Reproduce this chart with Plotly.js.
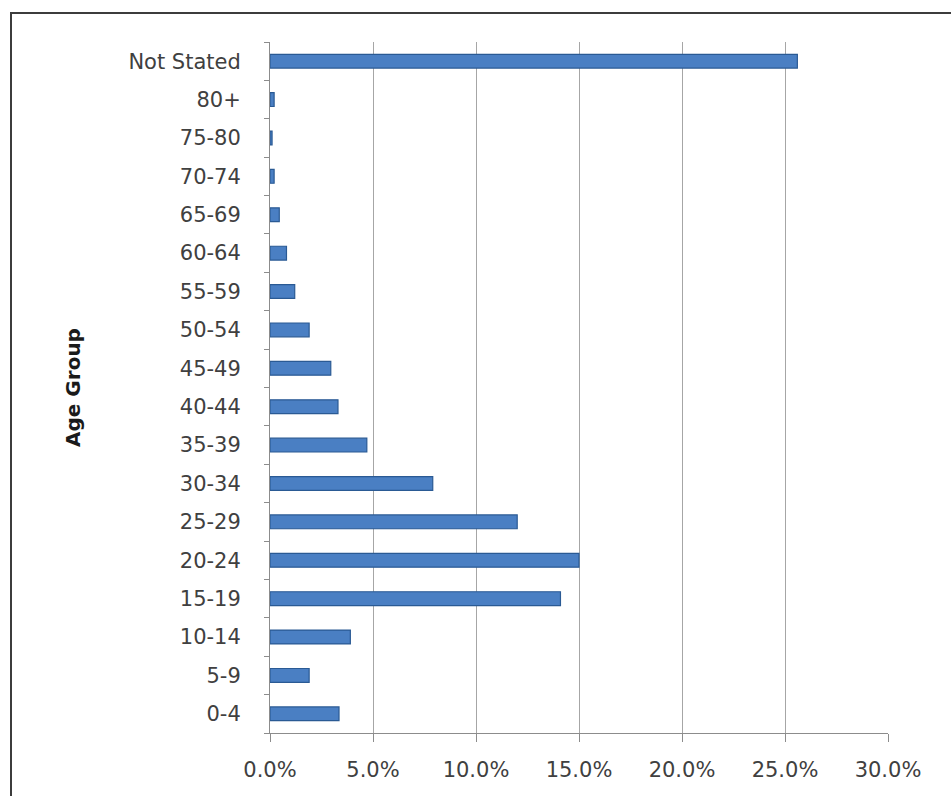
<!DOCTYPE html>
<html>
<head>
<meta charset="utf-8">
<script src="https://cdn.plot.ly/plotly-3.0.1.min.js"></script>
<style>
  html, body { margin: 0; padding: 0; background: #ffffff; }
  #wrap { position: relative; width: 951px; height: 796px; }
  #chart { position: absolute; left: 0; top: 0; width: 951px; height: 796px; }
  #frame { position: absolute; left: 10px; top: 12px; width: 941px; height: 784px;
           border-top: 2px solid #3c3c3c; border-left: 2px solid #3c3c3c;
           box-sizing: border-box; pointer-events: none; }
</style>
</head>
<body>
<div id="wrap">
  <div id="chart"></div>
  <div id="frame"></div>
</div>
<script>
// Age groups, bottom to top
const ageGroups = ["0-4", "5-9", "10-14", "15-19", "20-24", "25-29", "30-34", "35-39",
                   "40-44", "45-49", "50-54", "55-59", "60-64", "65-69", "70-74", "75-80",
                   "80+", "Not Stated"];
// Share of total (fraction)
const shares = [0.0335, 0.019, 0.039, 0.141, 0.150, 0.120, 0.079, 0.047,
                0.033, 0.0295, 0.019, 0.012, 0.008, 0.0045, 0.002, 0.001,
                0.002, 0.256];
const xTickValues = [0, 0.05, 0.10, 0.15, 0.20, 0.25, 0.30];
const xTickLabels = ["0.0%", "5.0%", "10.0%", "15.0%", "20.0%", "25.0%", "30.0%"];
const yAxisTitle = "Age Group";

const trace = {
  type: "bar",
  orientation: "h",
  x: shares,
  y: ageGroups,
  marker: { color: "#4a7fc3", line: { color: "#2a5a94", width: 1.2 } },
  hoverinfo: "x+y"
};

const layout = {
  width: 951,
  height: 796,
  margin: { l: 270, r: 63, t: 42, b: 63 },
  paper_bgcolor: "#ffffff",
  plot_bgcolor: "#ffffff",
  bargap: 0.64,
  showlegend: false,
  font: { family: "DejaVu Sans, sans-serif", color: "#404040", size: 21 },
  xaxis: {
    range: [0, 0.30],
    tickvals: xTickValues,
    ticktext: xTickLabels,
    showgrid: true,
    gridcolor: "#a6a6a6",
    gridwidth: 1,
    zeroline: false,
    showline: true,
    linecolor: "#8c8c8c",
    linewidth: 1,
    ticks: "outside",
    ticklen: 8,
    tickcolor: "#8c8c8c",
    ticklabelstandoff: 10,
    tickfont: { family: "DejaVu Sans, sans-serif", size: 21, color: "#404040" },
    fixedrange: true
  },
  yaxis: {
    type: "category",
    categoryorder: "array",
    categoryarray: ageGroups,
    range: [-0.5, ageGroups.length - 0.5],
    showgrid: false,
    zeroline: false,
    showline: true,
    linecolor: "#8c8c8c",
    linewidth: 1,
    ticks: "outside",
    tickson: "boundaries",
    ticklen: 5,
    tickcolor: "#8c8c8c",
    ticklabelstandoff: 24,
    tickfont: { family: "DejaVu Sans, sans-serif", size: 21, color: "#404040" },
    title: {
      text: "<b>" + yAxisTitle + "</b>",
      font: { family: "DejaVu Sans, sans-serif", size: 20, color: "#1a1a1a" },
      standoff: 42
    },
    fixedrange: true
  }
};

Plotly.newPlot("chart", [trace], layout, { displayModeBar: false, staticPlot: true });
</script>
</body>
</html>
